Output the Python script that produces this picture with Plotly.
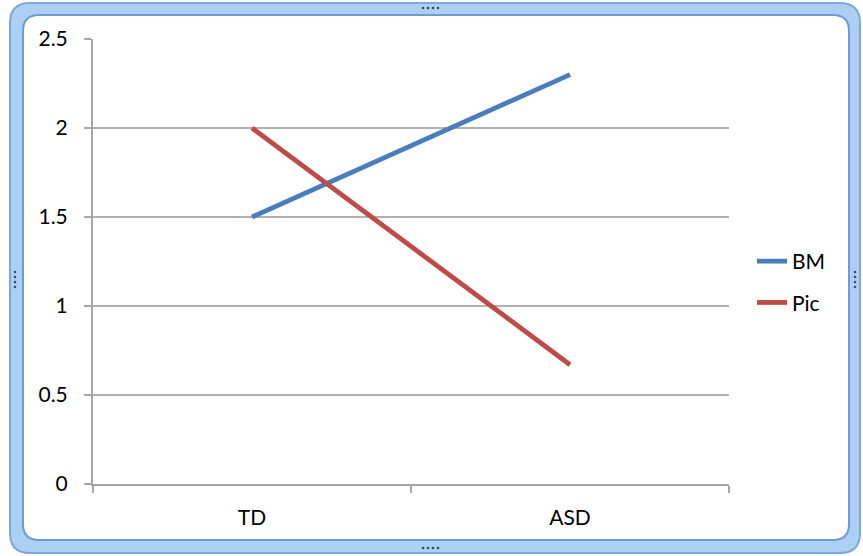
import plotly.graph_objects as go

categories = ["TD", "ASD"]
bm_values = [1.5, 2.3]
pic_values = [2.0, 0.67]
y_ticks = [0, 0.5, 1, 1.5, 2, 2.5]
y_tick_labels = ["0", "0.5", "1", "1.5", "2", "2.5"]

W, H = 863, 556
L, R, T, B = 93, 729, 39, 484

def px(x):
    return (x - L) / (R - L)

def py(y):
    return (B - y) / (B - T)

def rrect(x0, y0, x1, y1, r):
    pts = [
        ("M", [(x0 + r, y0)]),
        ("L", [(x1 - r, y0)]),
        ("Q", [(x1, y0), (x1, y0 + r)]),
        ("L", [(x1, y1 - r)]),
        ("Q", [(x1, y1), (x1 - r, y1)]),
        ("L", [(x0 + r, y1)]),
        ("Q", [(x0, y1), (x0, y1 - r)]),
        ("L", [(x0, y0 + r)]),
        ("Q", [(x0, y0), (x0 + r, y0)]),
    ]
    s = ""
    for cmd, ps in pts:
        s += cmd + " " + " ".join(f"{px(a):.5f},{py(b):.5f}" for a, b in ps) + " "
    return s + "Z"

fig = go.Figure()
fig.add_trace(go.Scatter(x=categories, y=bm_values, mode="lines", name="BM",
                         legendgroup="g1",
                         line=dict(color="#4a7ebb", width=4.8)))
fig.add_trace(go.Scatter(x=categories, y=pic_values, mode="lines", name="Pic",
                         legendgroup="g2",
                         line=dict(color="#be4b48", width=4.8)))

shapes = [
    dict(type="path", xref="paper", yref="paper", layer="below",
         path=rrect(10, 3, 860, 553, 20), fillcolor="#acd0f3",
         line=dict(color="#7ea8dc", width=2)),
    dict(type="path", xref="paper", yref="paper", layer="below",
         path=rrect(23, 15, 849, 540, 16), fillcolor="white",
         line=dict(color="#6f9ad6", width=2)),
]
# resize handle dots
dots = [(423, 8), (428, 8), (433, 8), (438, 8),
        (423, 548), (428, 548), (433, 548), (438, 548),
        (15, 272), (15, 277), (15, 282), (15, 287),
        (855, 272), (855, 277), (855, 282), (855, 287)]
for (x, y) in dots:
    shapes.append(dict(type="circle", xref="paper", yref="paper", layer="above",
                       x0=px(x - 1.3), x1=px(x + 1.3), y0=py(y + 1.3), y1=py(y - 1.3),
                       fillcolor="#2f4f7a", line=dict(width=0)))

fig.update_layout(
    width=W, height=H,
    margin=dict(l=L, r=W - R, t=T, b=H - B),
    paper_bgcolor="white",
    plot_bgcolor="rgba(0,0,0,0)",
    font=dict(family="Lato, Carlito, sans-serif", size=21, color="#000000"),
    shapes=shapes,
    showlegend=True,
    legend=dict(x=px(752), y=py(282), xanchor="left", yanchor="middle",
                bgcolor="rgba(0,0,0,0)", font=dict(size=21),
                traceorder="grouped", tracegroupgap=11,
                itemwidth=30),
    xaxis=dict(type="category", range=[-0.5, 1.5], showgrid=False,
               showline=True, linecolor="#a6a6a6", linewidth=2,
               ticks="outside", tickson="boundaries", ticklen=7, tickwidth=2,
               tickcolor="#a6a6a6", ticklabelstandoff=14, zeroline=False),
    yaxis=dict(range=[0, 2.5], tickvals=y_ticks, ticktext=y_tick_labels,
               showgrid=True, gridcolor="#b0b0b0", gridwidth=2,
               showline=True, linecolor="#a6a6a6", linewidth=2,
               ticks="outside", ticklen=7, tickwidth=2, tickcolor="#a6a6a6",
               ticklabelstandoff=12, zeroline=False),
)

fig.write_html("out.html")
